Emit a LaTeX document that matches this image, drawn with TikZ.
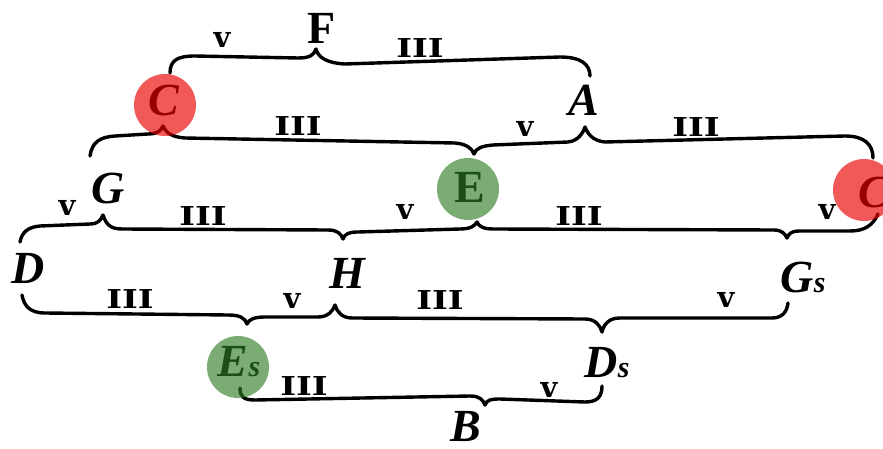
\documentclass[tikz,border=0pt]{standalone}
\usepackage{fontspec}
\setmainfont{Liberation Serif}
\newfontfamily\lblfont{DejaVu Serif}
\definecolor{hlred}{RGB}{235,0,0}
\definecolor{hlgreen}{RGB}{45,125,35}
\tikzset{
  brace/.style={line width=3.4pt, line cap=round, line join=round},
  notename/.style={font=\fontsize{46}{46}\selectfont\bfseries\itshape, inner sep=0pt},
  noteup/.style={font=\fontsize{46}{46}\selectfont\bfseries, inner sep=0pt},
  fifthlbl/.style={font=\lblfont\bfseries\fontsize{29}{29}\selectfont, inner sep=0pt},
  thirdlbl/.style={font=\lblfont\bfseries\fontsize{26}{26}\selectfont, inner sep=0pt},
  hlr/.style={circle, minimum size=62pt, inner sep=0pt, fill=hlred, fill opacity=0.65},
  hlg/.style={circle, minimum size=62pt, inner sep=0pt, fill=hlgreen, fill opacity=0.63},
}
\newcommand{\smalls}{{\fontsize{30}{30}\selectfont s}}
\newcommand{\IIIlbl}{\scalebox{1.3}[1]{III}}
\begin{document}
\begin{tikzpicture}[x=1pt, y=-1pt]
\useasboundingbox (0,0) rectangle (883,449);
\clip (0,0) rectangle (883,449);
\fill[white] (0,0) rectangle (883,449);

% cusp coordinates
\coordinate (kF) at (316,49);
\coordinate (kC) at (163,126);
\coordinate (kE2) at (474,154);
\coordinate (kA) at (585,127);
\coordinate (kG) at (103,215);
\coordinate (kH3) at (343,239);
\coordinate (kE3) at (477,222);
\coordinate (kGs3) at (787,238);
\coordinate (kEs) at (247,324);
\coordinate (kH4) at (335,305);
\coordinate (kDs) at (602,332);
\coordinate (kB) at (485,405);

% row 1 (F)
\draw[brace] (170,73) .. controls (170,60) and (178,56) .. (195,56) -- (298,58)
  .. controls (310,58) and (314,55) .. (kF)
  .. controls (318,57) and (326,63) .. (345,64) -- (560,57)
  .. controls (582,57) and (590,65) .. (590,76);

% row 2 (C, A)
\draw[brace] (90,156) .. controls (92,142) and (100,137) .. (115,136) -- (148,134)
  .. controls (157,134) and (161,131) .. (kC)
  .. controls (166,133) and (172,137) .. (185,138) -- (455,143)
  .. controls (466,144) and (472,148) .. (kE2)
  .. controls (476,148) and (482,146) .. (493,145) -- (568,142)
  .. controls (578,141) and (583,133) .. (kA)
  .. controls (588,135) and (594,141) .. (605,142) -- (845,136)
  .. controls (865,136) and (873,145) .. (873,158);

% row 3 (G, E)
\draw[brace] (20,242) .. controls (22,232) and (28,227) .. (40,226) -- (90,224)
  .. controls (98,224) and (101,220) .. (kG)
  .. controls (106,224) and (110,229) .. (122,229) -- (328,230)
  .. controls (338,230) and (341,234) .. (kH3)
  .. controls (345,234) and (348,232) .. (358,232) -- (460,229)
  .. controls (470,229) and (475,226) .. (kE3)
  .. controls (479,227) and (484,229) .. (494,229) -- (774,230)
  .. controls (782,230) and (785,234) .. (kGs3)
  .. controls (789,233) and (792,231) .. (800,231) -- (850,231)
  .. controls (865,231) and (873,225) .. (878,214);

% row 4 (H)
\draw[brace] (22,295) .. controls (24,306) and (30,313) .. (45,313) -- (228,315)
  .. controls (240,315) and (245,318) .. (kEs)
  .. controls (249,319) and (255,317) .. (265,317) -- (318,317)
  .. controls (328,317) and (333,311) .. (kH4)
  .. controls (337,312) and (342,318) .. (352,318) -- (585,319)
  .. controls (595,319) and (600,325) .. (kDs)
  .. controls (604,324) and (609,318) .. (620,318) -- (772,318)
  .. controls (782,318) and (787,312) .. (788,303);

% row 5 (B)
\draw[brace] (240,388) .. controls (240,397) and (244,400) .. (255,400) -- (470,396)
  .. controls (480,396) and (483,400) .. (kB)
  .. controls (487,400) and (490,399) .. (500,399) -- (585,402)
  .. controls (597,402) and (602,397) .. (602,386);

% note names
\node[noteup]   (F)  at (322,28)  {F};
\node[notename] (C)  at (164,100) {C};
\node[notename] (A)  at (584,100) {A};
\node[notename] (G)  at (108,188) {G};
\node[noteup]   (E)  at (470,187) {E};
\node[notename] (Cs) at (880,192) {C\smalls};
\node[notename] (D)  at (28,268)  {D};
\node[notename] (H)  at (347,273) {H};
\node[notename] (Gs) at (803,277) {G\smalls};
\node[notename] (Es) at (239,362) {E\smalls};
\node[notename] (Ds) at (607,363) {D\smalls};
\node[notename] (B)  at (466,427) {B};

% interval labels
\node[fifthlbl] (v1)  at (222,40)  {v};
\node[thirdlbl] (t1)  at (420,48)  {\IIIlbl};
\node[thirdlbl] (t2)  at (298,126) {\IIIlbl};
\node[fifthlbl] (v2)  at (525,129) {v};
\node[thirdlbl] (t3)  at (696,127) {\IIIlbl};
\node[fifthlbl] (v3)  at (67,208)  {v};
\node[thirdlbl] (t4)  at (203,216) {\IIIlbl};
\node[fifthlbl] (v4)  at (405,212) {v};
\node[thirdlbl] (t5)  at (579,216) {\IIIlbl};
\node[fifthlbl] (v5)  at (827,212) {v};
\node[thirdlbl] (t6)  at (130,299) {\IIIlbl};
\node[fifthlbl] (v6)  at (292,301) {v};
\node[thirdlbl] (t7)  at (440,300) {\IIIlbl};
\node[fifthlbl] (v7)  at (726,300) {v};
\node[thirdlbl] (t8)  at (304,386) {\IIIlbl};
\node[fifthlbl] (v8)  at (549,390) {v};

% highlight circles
\node[hlr] (hC)  at (165,105) {};
\node[hlg] (hE)  at (468,189) {};
\node[hlr] (hCs) at (864,190) {};
\node[hlg] (hEs) at (238,367) {};
\end{tikzpicture}
\end{document}
